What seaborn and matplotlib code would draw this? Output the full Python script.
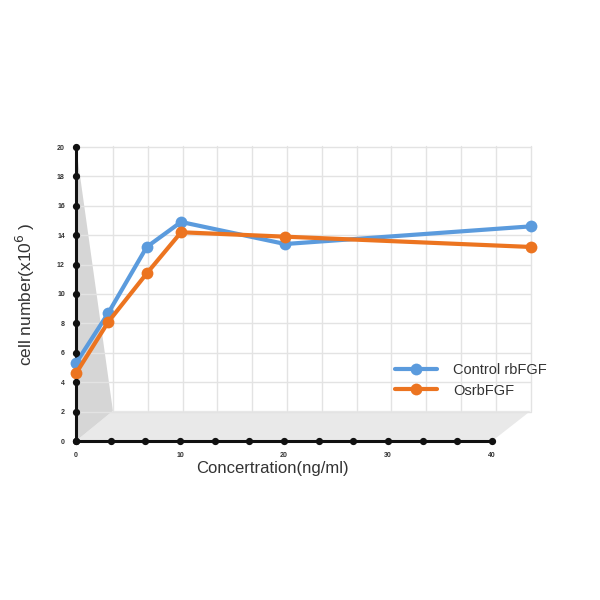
import numpy as np
import pandas as pd
import matplotlib
matplotlib.use("Agg")
import matplotlib.pyplot as plt
from matplotlib.patches import Polygon
import seaborn as sns

# values
concentration = [0, 3.1, 6.8, 10.1, 20.1, 43.7]
control_rbfgf = [5.3, 8.7, 13.2, 14.9, 13.4, 14.6]
osr_bfgf = [4.6, 8.1, 11.4, 14.2, 13.9, 13.2]
series_names = ["Control rbFGF", "OsrbFGF"]
x_ticks = [0, 10, 20, 30, 40]
y_ticks = list(range(0, 21, 2))

df = pd.DataFrame({
    "conc": concentration * 2,
    "cells": control_rbfgf + osr_bfgf,
    "series": [series_names[0]] * len(concentration) + [series_names[1]] * len(concentration),
})

sns.set_style("white")
plt.rcParams['font.family'] = ['Liberation Sans', 'DejaVu Sans']

fig = plt.figure(figsize=(6, 6), dpi=100)
ax = fig.add_axes([76 / 600, 159 / 600, 463 / 600, 294 / 600])
ax.set_xlim(0, 44.5)
ax.set_ylim(0, 20)

# fake 3D box: back wall shifted right/up
dx, dy = 3.55, 2.05
back_right = 43.7
floor = Polygon([(0, 0), (40, 0), (back_right, dy), (dx, dy)], closed=True,
                facecolor="#e9e9e9", edgecolor="none", zorder=0, clip_on=False)
ax.add_patch(floor)
wall = Polygon([(0, 20), (0, 0), (dx, dy)], closed=True,
               facecolor="#d6d6d6", edgecolor="none", zorder=0, clip_on=False)
ax.add_patch(wall)
for k in range(13):
    xv = dx + k * (back_right - dx) / 12
    ax.plot([xv, xv], [dy, 20.1], color="#e3e3e3", lw=1, zorder=0.5, clip_on=False)
for yv in y_ticks[1:]:
    ax.plot([0.3, back_right], [yv, yv], color="#e3e3e3", lw=1, zorder=0.5, clip_on=False)

sns.lineplot(data=df, x="conc", y="cells", hue="series",
             palette=["#5b9bdd", "#ec7420"], marker="o", markersize=8.5,
             markeredgewidth=0, linewidth=3, ax=ax, zorder=5, clip_on=False)

# axis lines with dot ticks
for s in ["top", "right"]:
    ax.spines[s].set_visible(False)
ax.spines["left"].set_linewidth(2.2)
ax.spines["bottom"].set_linewidth(2.2)
ax.spines["left"].set_color("#111111")
ax.spines["bottom"].set_color("#111111")
ax.spines["bottom"].set_bounds(0, 40)
ax.plot([0] * len(y_ticks), y_ticks, "o", color="#111111", ms=4.2, clip_on=False, zorder=6)
minor_x = np.linspace(0, 40, 13)
ax.plot(minor_x, [0] * len(minor_x), "o", color="#111111", ms=4.2, clip_on=False, zorder=6)

ax.set_xticks(x_ticks)
ax.set_xticklabels([str(v) for v in x_ticks])
ax.set_yticks(y_ticks)
ax.set_yticklabels([str(v) for v in y_ticks])
ax.tick_params(length=0, labelsize=5, pad=8)
for lab in ax.get_xticklabels() + ax.get_yticklabels():
    lab.set_fontweight("bold")
    lab.set_color("#333333")

ax.set_xlabel("Concertration(ng/ml)", fontsize=12, color="#333333")
ax.xaxis.set_label_coords(0.425, -0.068)
ax.set_ylabel("cell number(x10$^{6}$ )", fontsize=12.5, color="#333333")
ax.yaxis.set_label_coords(-0.085, 0.5)

leg = ax.legend(loc="upper left", bbox_to_anchor=(0.66, 0.31), frameon=False,
                fontsize=10.5, handlelength=2.9, labelspacing=0.45, handletextpad=1.1)
for t in leg.get_texts():
    t.set_color("#333333")

fig.savefig("out.png", dpi=100, facecolor="white")
